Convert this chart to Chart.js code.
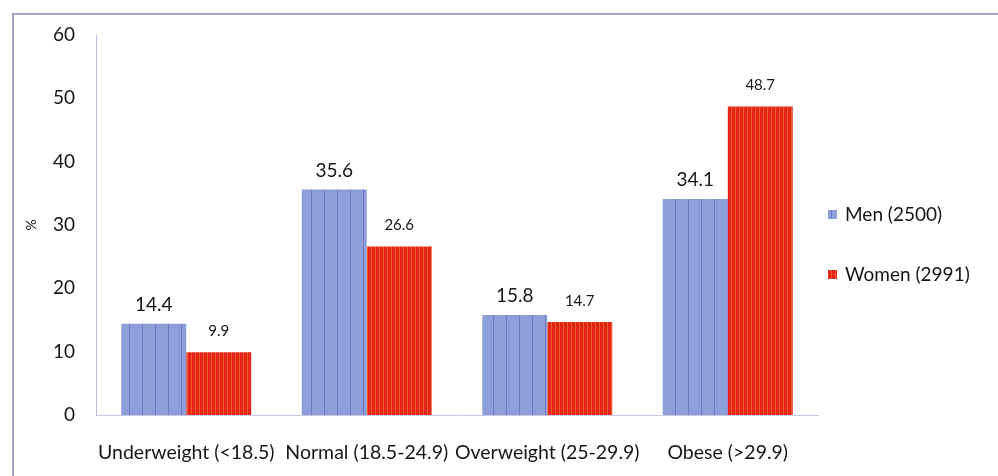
<!DOCTYPE html>
<html>
<head>
<meta charset="utf-8">
<script src="https://cdn.jsdelivr.net/npm/chart.js@4.4.1/dist/chart.umd.min.js"></script>
<style>
  html, body { margin: 0; padding: 0; background: #fff; }
  #wrap { position: relative; width: 998px; height: 476px; overflow: hidden; }
  #frame {
    position: absolute; left: 12px; top: 13px; width: 1000px; height: 480px;
    border-top: 2px solid #a2a4d0; border-left: 2px solid #a2a4d0;
  }
  canvas { position: absolute; left: 0; top: 0; }
</style>
</head>
<body>
<div id="wrap">
  <div id="frame"></div>
  <canvas id="bmi" width="998" height="476"></canvas>
</div>
<script>
'use strict';

const categories = ['Underweight (<18.5)', 'Normal (18.5-24.9)', 'Overweight (25-29.9)', 'Obese (>29.9)'];
const menValues = [14.4, 35.6, 15.8, 34.1];
const womenValues = [9.9, 26.6, 14.7, 48.7];
const seriesNames = ['Men (2500)', 'Women (2991)'];
const yTicks = [0, 10, 20, 30, 40, 50, 60];

const FONT = 'Lato, "Liberation Sans", sans-serif';
const INK = '#161616';

// striped fills for the two series
function stripes(w, base, line, lineW) {
    const c = document.createElement('canvas');
    c.width = w;
    c.height = 8;
    const g = c.getContext('2d');
    g.fillStyle = base;
    g.fillRect(0, 0, w, 8);
    g.fillStyle = line;
    g.fillRect(w - lineW, 0, lineW, 8);
    return g.createPattern(c, 'repeat');
}

const ctx = document.getElementById('bmi').getContext('2d');
const menFill = stripes(13, '#8e9ed8', '#7476c4', 1);
const womenFill = stripes(4, '#e6261a', '#f05a2a', 1);

// value labels above each bar
const barValues = {
    id: 'barValues',
    afterDatasetsDraw(chart) {
        const c = chart.ctx;
        c.save();
        c.fillStyle = INK;
        c.textAlign = 'center';
        c.textBaseline = 'middle';
        chart.data.datasets.forEach((ds, i) => {
            const size = i === 0 ? 19 : 15;
            const gap = i === 0 ? 19 : 21;
            c.font = size + 'px ' + FONT;
            chart.getDatasetMeta(i).data.forEach((bar, j) => {
                c.fillText(ds.data[j].toFixed(1), bar.x, bar.y - gap);
            });
        });
        c.restore();
    }
};

new Chart(ctx, {
    type: 'bar',
    data: {
        labels: categories,
        datasets: [
            { label: seriesNames[0], data: menValues, backgroundColor: menFill },
            { label: seriesNames[1], data: womenValues, backgroundColor: womenFill }
        ]
    },
    options: {
        responsive: false,
        animation: false,
        layout: { padding: { left: 20, top: 35, right: 180, bottom: 11 } },
        datasets: { bar: { categoryPercentage: 0.72, barPercentage: 1.0 } },
        plugins: {
            legend: { display: false },
            tooltip: { enabled: false }
        },
        scales: {
            x: {
                grid: { display: false, drawTicks: false },
                border: { color: '#c8c8e8', width: 1, dash: [2, 2] },
                ticks: { color: INK, font: { family: FONT, size: 19.5 }, padding: 26, maxRotation: 0, autoSkip: false },
                afterFit(scale) { scale.height = 50; }
            },
            y: {
                min: 0,
                max: 60,
                afterBuildTicks(scale) { scale.ticks = yTicks.map(v => ({ value: v })); },
                grid: { display: false, drawTicks: false },
                border: { color: '#b8b8dc', width: 1 },
                ticks: { color: INK, font: { family: FONT, size: 19 }, padding: 21 },
                title: { display: true, text: '%', color: INK, font: { family: FONT, size: 14 }, padding: { top: 3, bottom: 0 } },
                afterFit(scale) { scale.width = 76; }
            }
        }
    },
    plugins: [barValues, {
        // legend at the right of the plot
        id: 'sideLegend',
        afterDraw(chart) {
            const c = chart.ctx;
            const fills = [menFill, womenFill];
            c.save();
            c.font = '19px ' + FONT;
            c.textBaseline = 'middle';
            seriesNames.forEach((name, i) => {
                const y = 215 + i * 60;
                c.fillStyle = fills[i];
                c.fillRect(828, y - 5, 9, 9);
                c.fillStyle = INK;
                c.fillText(name, 845, y);
            });
            c.restore();
        }
    }]
});
</script>
</body>
</html>
